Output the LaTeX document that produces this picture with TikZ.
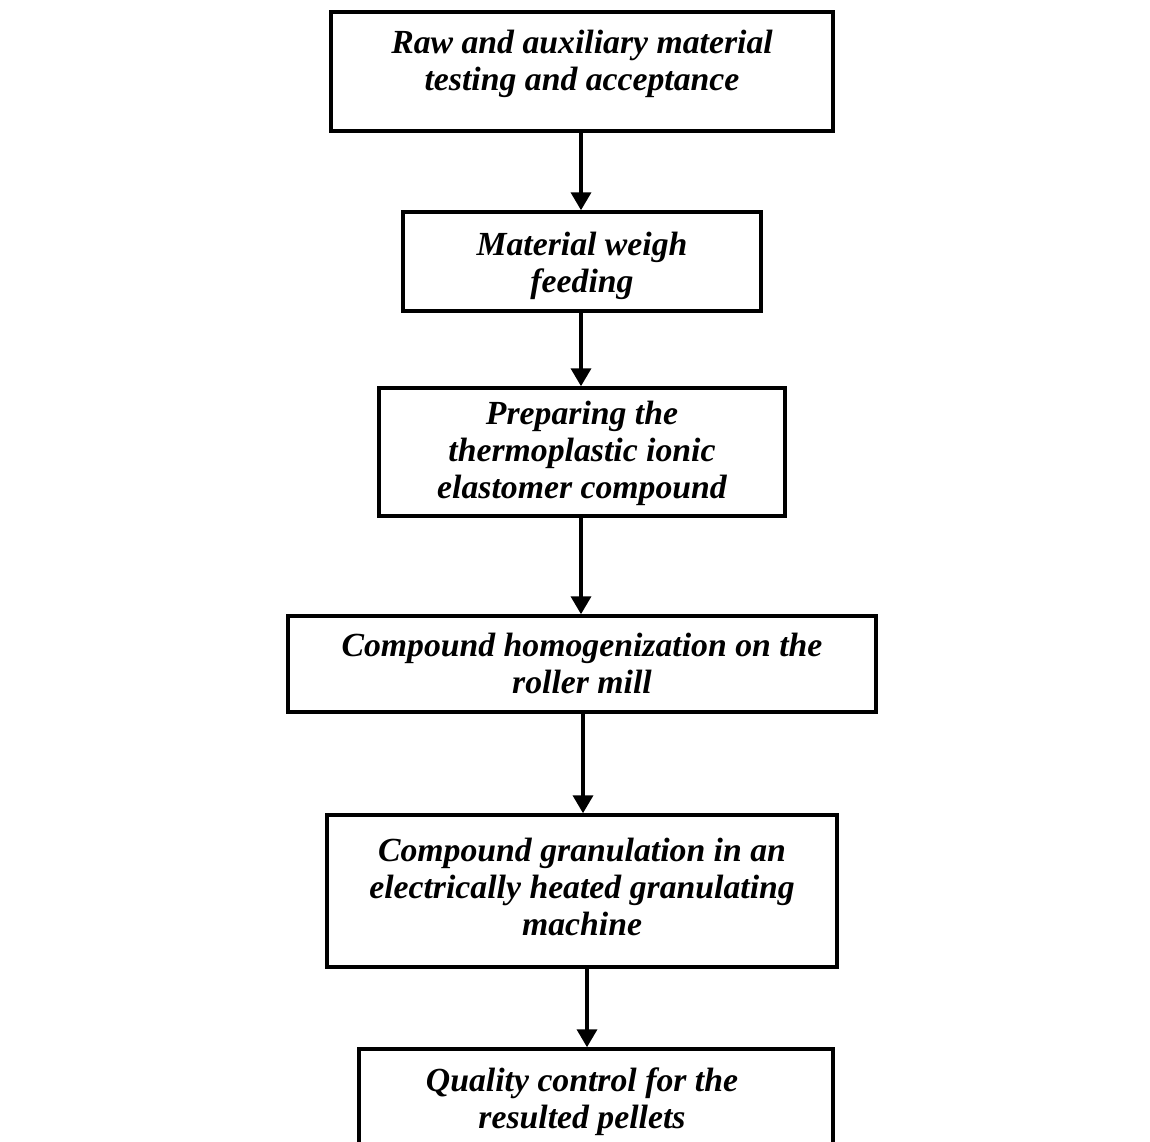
\documentclass[tikz,border=0pt]{standalone}
\usepackage{fontspec}
\setmainfont{Liberation Serif}
\usetikzlibrary{arrows.meta,calc}
\begin{document}
\begin{tikzpicture}[x=0.02cm,y=-0.02cm,
  box/.style={draw,line width=2pt,inner sep=0pt,minimum width=#1},
  txt/.style={anchor=north,inner sep=0pt,align=center,font=\fontsize{19.2}{21}\selectfont\bfseries\itshape},
  arr/.style={line width=2.1pt,-{Triangle[length=0.36cm,width=0.4cm]}}]
\useasboundingbox (0,0) rectangle (1150,1142);
\clip (0,0) rectangle (1150,1142);
% boxes
\node[box=10.04cm,minimum height=2.38cm] (b1) at (582,71.5) {};
\node[box=7.16cm,minimum height=1.98cm] (b2) at (582,261.5) {};
\node[box=8.12cm,minimum height=2.56cm] (b3) at (582,452) {};
\node[box=11.76cm,minimum height=1.92cm] (b4) at (582,664) {};
\node[box=10.2cm,minimum height=3.04cm] (b5) at (582,891) {};
\node[box=9.48cm,minimum height=2.2cm] (b6) at (596,1104) {};
% texts
\node[txt] (t1) at (582,30) {Raw and auxiliary material\\testing and acceptance};
\node[txt] (t2) at (582,232) {Material weigh\\feeding};
\node[txt] (t3) at (582,401) {Preparing the\\thermoplastic ionic\\elastomer compound};
\node[txt] (t4) at (582,633) {Compound homogenization on the\\roller mill};
\node[txt] (t5) at (582,838) {Compound granulation in an\\electrically heated granulating\\machine};
\node[txt] (t6) at (582,1067) {Quality control for the\\resulted pellets};
% arrows
\draw[arr] (581,0 |- b1.south) -- (581,0 |- b2.north);
\draw[arr] (581,0 |- b2.south) -- (581,0 |- b3.north);
\draw[arr] (581,0 |- b3.south) -- (581,0 |- b4.north);
\draw[arr] (583,0 |- b4.south) -- (583,0 |- b5.north);
\draw[arr] (587,0 |- b5.south) -- (587,0 |- b6.north);
\end{tikzpicture}
\end{document}
